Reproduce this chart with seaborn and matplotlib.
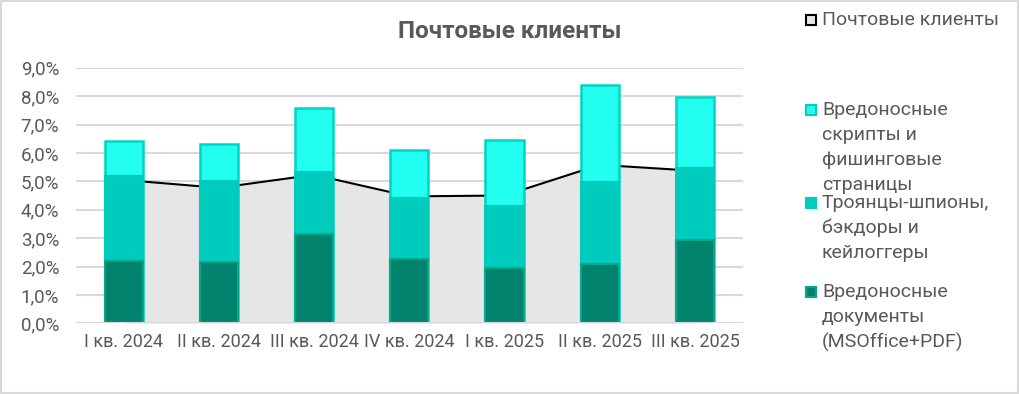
import numpy as np
import matplotlib
matplotlib.use('Agg')
import matplotlib.pyplot as plt
import seaborn as sns
from matplotlib.patches import Rectangle

# Data (values in %)
quarters = ['I кв. 2024', 'II кв. 2024', 'III кв. 2024', 'IV кв. 2024',
            'I кв. 2025', 'II кв. 2025', 'III кв. 2025']
docs = [2.19, 2.16, 3.14, 2.26, 1.95, 2.09, 2.92]
trojans = [3.00, 2.86, 2.20, 2.14, 2.19, 2.90, 2.56]
scripts = [1.24, 1.28, 2.24, 1.71, 2.33, 3.41, 2.49]
mail_clients = [5.05, 4.77, 5.23, 4.47, 4.50, 5.58, 5.37]

legend_labels = [
    ['Почтовые клиенты'],
    ['Вредоносные', 'скрипты и', 'фишинговые', 'страницы'],
    ['Троянцы-шпионы,', 'бэкдоры и', 'кейлоггеры'],
    ['Вредоносные', 'документы', '(MSOffice+PDF)'],
]

sns.set_style('white')
plt.rcParams['font.family'] = ['Roboto', 'DejaVu Sans']
gray_text = '#595959'

c_docs = '#00826C'
c_troj = '#00CCBE'
c_scr = '#22FFF0'
c_area = '#E6E6E6'

fig = plt.figure(figsize=(10.2, 3.94), dpi=100)
ax = fig.add_axes([0.0745, 0.1794, 0.6535, 0.6487])

x = np.arange(len(quarters))
docs_a = np.array(docs)
mid_top = docs_a + np.array(trojans)
total = mid_top + np.array(scripts)

# area + line for mail clients
ax.fill_between(x, 0, mail_clients, color=c_area, zorder=1, linewidth=0)
ax.plot(x, mail_clients, color='black', linewidth=1.5, zorder=2)

# stacked bars drawn as overlapping cumulative bars
sns.barplot(x=quarters, y=total, color=c_scr, edgecolor='#00D4C4', linewidth=1.8,
            width=0.4, saturation=1, ax=ax, zorder=3)
sns.barplot(x=quarters, y=mid_top, color=c_troj, edgecolor=c_troj, linewidth=1.5,
            width=0.4, saturation=1, ax=ax, zorder=4)
sns.barplot(x=quarters, y=docs_a, color=c_docs, edgecolor='#00A88C', linewidth=1.5,
            width=0.4, saturation=1, ax=ax, zorder=5)

ax.set_xlim(-0.5, 6.5)
ax.set_ylim(0, 9)
ax.set_yticks(np.arange(0, 10, 1))
ax.set_yticklabels([f'{v:.1f}%'.replace('.', ',') for v in range(10)])
ax.yaxis.grid(True, color='#D9D9D9', linewidth=1.5, zorder=0)
ax.set_axisbelow(True)
for s in ax.spines.values():
    s.set_visible(False)
ax.axhline(0, color='#D9D9D9', linewidth=1.5, zorder=6)
ax.tick_params(axis='y', length=0, labelsize=13.5, colors=gray_text, pad=12)
ax.tick_params(axis='x', length=0, labelsize=13, colors=gray_text, pad=7)
ax.set_xlabel('')
ax.set_ylabel('')

fig.text(0.5, 0.919, 'Почтовые клиенты', ha='center', va='center',
         fontsize=17.5, fontweight='bold', color=gray_text)

# legend drawn manually to mimic the wrapped layout
leg_colors = [(c_area, 'black'), (c_scr, '#00CCC0'), (c_troj, c_troj), (c_docs, '#00A88C')]
leg_starts = [20, 110, 203, 292]
W, H = 1020, 394
for labels, (fc, ec), y0 in zip(legend_labels, leg_colors, leg_starts):
    fig.patches.append(Rectangle((806 / W, 1 - (y0 + 5) / H), 10 / W, 10 / H,
                                 transform=fig.transFigure, facecolor=fc,
                                 edgecolor=ec, linewidth=1.5))
    for i, line in enumerate(labels):
        fig.text(822 / W, 1 - (y0 + i * 25) / H, line, ha='left', va='center',
                 fontsize=14, color=gray_text)

fig.patches.append(Rectangle((0.001, 0.002), 0.997, 0.995, transform=fig.transFigure,
                             fill=False, edgecolor='#D9D9D9', linewidth=1.5))

fig.savefig('out.png', dpi=100)
